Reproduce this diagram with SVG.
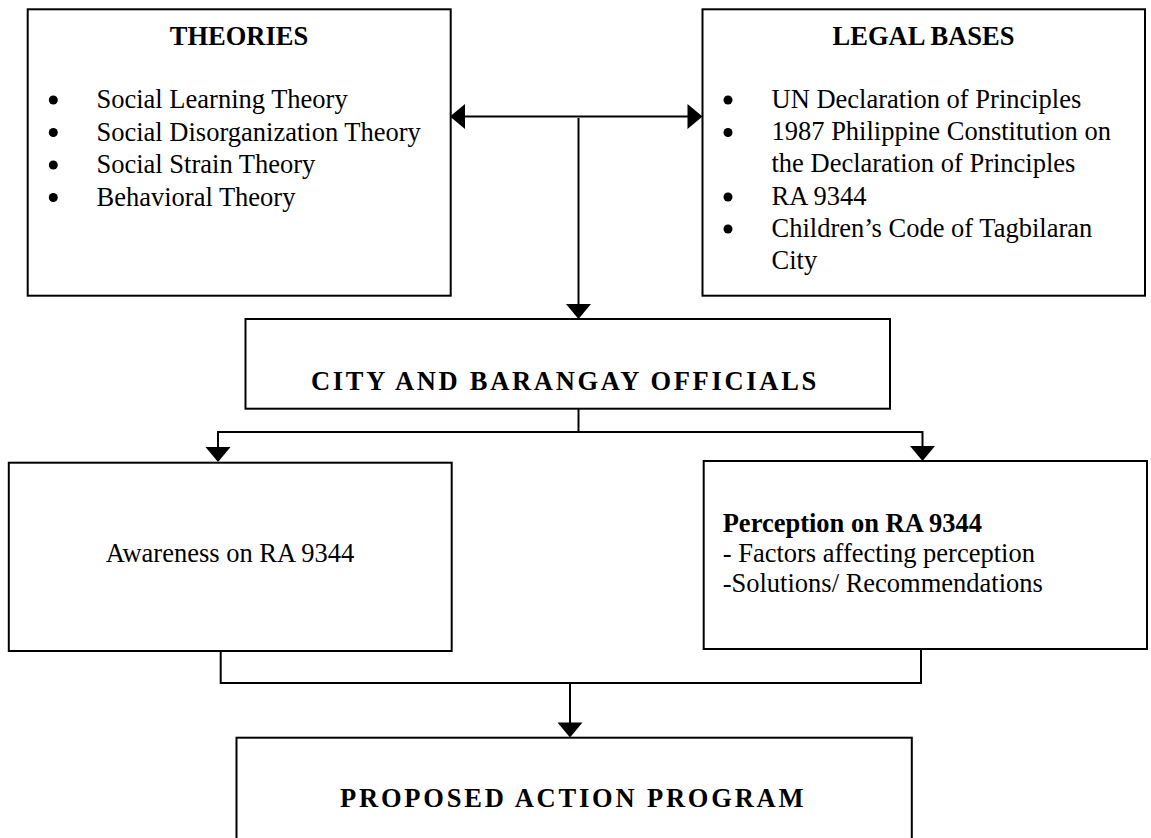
<svg xmlns="http://www.w3.org/2000/svg" width="1151" height="838" viewBox="0 0 1151 838">
<style>
.box{fill:#fff;stroke:#000;stroke-width:2}
.t{font-family:"Liberation Serif","Times New Roman",serif;font-size:26.5px;fill:#000}
.b{font-weight:bold}
.c{fill:none;stroke:#000;stroke-width:2}
.h{fill:#000;stroke:none}
</style>
<defs>
<marker id="ah" viewBox="0 0 15 25" refX="15" refY="12.5" markerWidth="15" markerHeight="25" markerUnits="userSpaceOnUse" orient="auto-start-reverse">
<path d="M0,0 L15,12.5 L0,25 Z" fill="#000"/>
</marker>
</defs>
<rect width="1151" height="838" fill="#fff"/>
<g id="connectors">
<line class="c" x1="465" y1="116.5" x2="688" y2="116.5"/>
<path class="h" d="M450,116.5 L465,104 L465,129 Z"/>
<path class="h" d="M702.5,116.5 L687.5,104 L687.5,129 Z"/>
<line class="c" x1="578.5" y1="118" x2="578.5" y2="305"/>
<path class="h" d="M578.5,319 L566,304 L591,304 Z"/>
<polyline class="c" points="578.5,409 578.5,432"/>
<polyline class="c" points="218,448 218,432 922.5,432 922.5,447"/>
<path class="h" d="M218,462 L205.5,447 L230.5,447 Z"/>
<path class="h" d="M922.5,461 L910,446 L935,446 Z"/>
<polyline class="c" points="220.7,651 220.7,683 921,683 921,649"/>
<line class="c" x1="570" y1="683" x2="570" y2="723"/>
<path class="h" d="M570,737.5 L557.5,722.5 L582.5,722.5 Z"/>
</g>
<g id="theories">
<rect class="box" x="27.7" y="9.3" width="423" height="286.4"/>
<text class="t b" x="239" y="45" text-anchor="middle">THEORIES</text>
<circle cx="53.3" cy="100" r="4.5"/>
<circle cx="53.3" cy="132.5" r="4.5"/>
<circle cx="53.3" cy="165" r="4.5"/>
<circle cx="53.3" cy="197.5" r="4.5"/>
<text class="t" x="96.5" y="108">Social Learning Theory</text>
<text class="t" x="96.5" y="140.5">Social Disorganization Theory</text>
<text class="t" x="96.5" y="173">Social Strain Theory</text>
<text class="t" x="96.5" y="205.5">Behavioral Theory</text>
</g>
<g id="legal-bases">
<rect class="box" x="702.5" y="9.3" width="442.5" height="286.4"/>
<text class="t b" x="923.5" y="45" text-anchor="middle">LEGAL BASES</text>
<circle cx="728" cy="100" r="4.5"/>
<circle cx="728" cy="132.5" r="4.5"/>
<circle cx="728" cy="197" r="4.5"/>
<circle cx="728" cy="229" r="4.5"/>
<text class="t" x="771.5" y="108">UN Declaration of Principles</text>
<text class="t" x="771.5" y="140">1987 Philippine Constitution on</text>
<text class="t" x="771.5" y="172">the Declaration of Principles</text>
<text class="t" x="771.5" y="204.5">RA 9344</text>
<text class="t" x="771.5" y="237">Children’s Code of Tagbilaran</text>
<text class="t" x="771.5" y="269">City</text>
</g>
<g id="officials">
<rect class="box" x="245.5" y="319" width="644.5" height="89.7"/>
<text class="t b" x="311" y="390" letter-spacing="2.7">CITY AND BARANGAY OFFICIALS</text>
</g>
<g id="awareness">
<rect class="box" x="8.8" y="462.7" width="442.9" height="188.3"/>
<text class="t" x="230" y="561.7" text-anchor="middle">Awareness on RA 9344</text>
</g>
<g id="perception">
<rect class="box" x="703.7" y="461" width="443.3" height="188"/>
<text class="t b" x="722.7" y="531.5">Perception on RA 9344</text>
<text class="t" x="722.7" y="562">- Factors affecting perception</text>
<text class="t" x="722.7" y="591.5">-Solutions/ Recommendations</text>
</g>
<g id="action-program">
<rect class="box" x="236.5" y="737.7" width="675.3" height="120"/>
<text class="t b" x="340" y="807" letter-spacing="2.8">PROPOSED ACTION PROGRAM</text>
</g>
</svg>
